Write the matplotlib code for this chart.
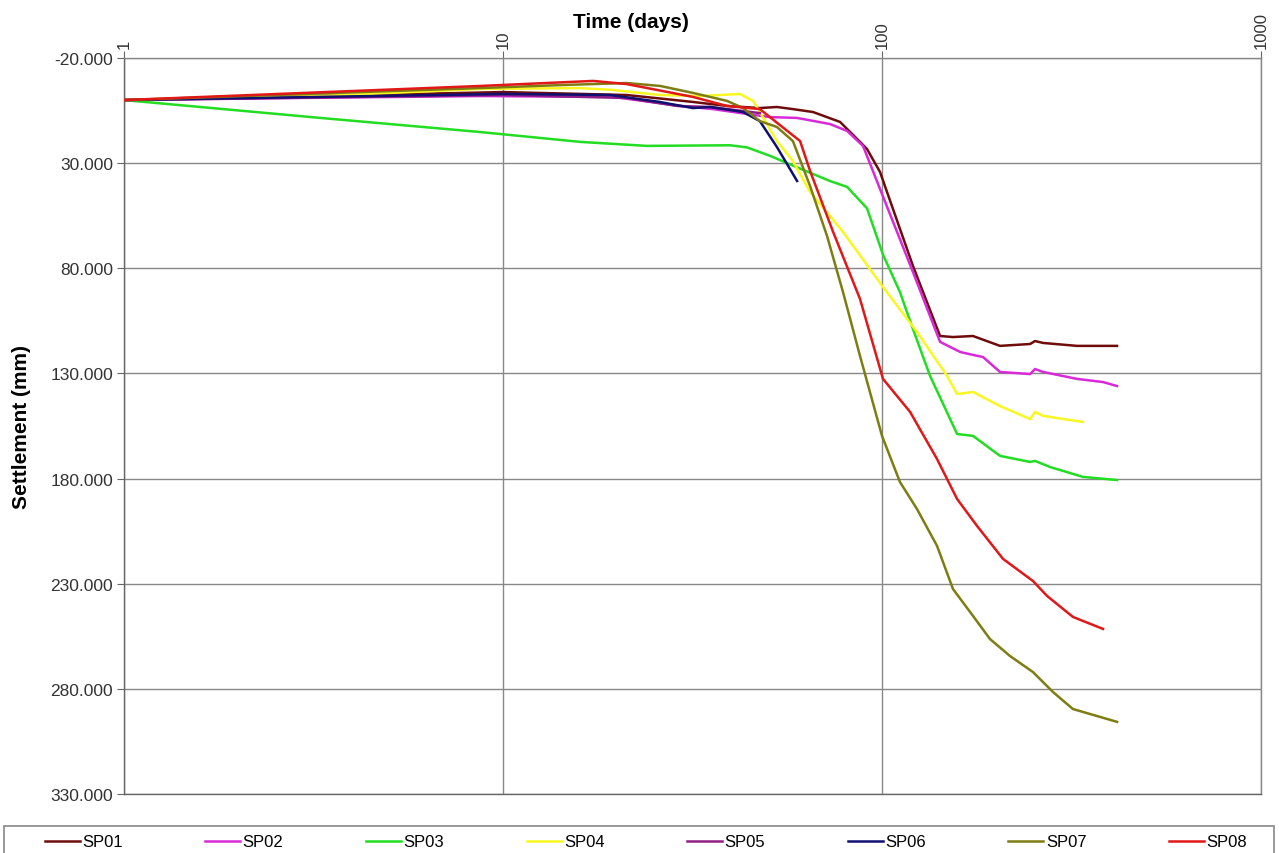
import matplotlib
matplotlib.use('Agg')
import matplotlib.pyplot as plt
import numpy as np
from matplotlib.patches import Rectangle
from matplotlib.ticker import FuncFormatter, NullLocator

plt.rcParams['font.family'] = ['Liberation Sans', 'DejaVu Sans']

# settlement records: days since start / settlement (mm)
sp01_days = [1, 10, 21.2, 31.7, 39, 47.6, 52.8, 58.2, 65.8, 77.5, 87.5, 91.3, 98.8, 120.7,
             142.3, 153.9, 173.8, 204.8, 245.9, 253.4, 266.1, 327, 417]
sp01_set = [0, -3.8, -2.4, 0.9, 2.8, 3.8, 3.3, 4.3, 5.7, 10.4, 19.9, 23.3, 34.2, 78.9,
            112.2, 112.7, 112.2, 116.9, 116.0, 114.6, 115.5, 116.9, 116.9]

sp02_days = [1, 2.9, 8.7, 19.5, 29.3, 35.8, 44, 50.6, 59.7, 72.9, 80.9, 89.1, 98.8, 120.7,
             142.3, 160.8, 173.8, 184.7, 204.8, 245.9, 253.4, 266.1, 327, 383, 417]
sp02_set = [0, -1, -1.9, -1.5, 2.8, 4.3, 6.6, 8.1, 8.5, 11.4, 14.7, 21.8, 42.3, 81.8,
            115.0, 119.8, 121.2, 122.2, 129.3, 130.3, 127.9, 129.3, 132.6, 134.1, 136.0]

sp03_days = [1, 3.3, 8.7, 16, 24, 39.7, 44, 50.6, 59.7, 72.9, 80.9, 91.3, 100.6, 111.5,
             120.7, 133.9, 157.8, 173.8, 204.8, 245.9, 253.4, 277.5, 339, 417]
sp03_set = [0, 8.5, 15.2, 19.9, 21.8, 21.5, 22.5, 26.5, 32.0, 38.5, 41.3, 51.5, 73.5, 91.3,
            108.9, 131.2, 158.8, 159.7, 169.2, 172.1, 171.6, 174.5, 179.2, 180.7]

sp04_days = [1, 3.3, 8.7, 16, 19.5, 26, 33.1, 42.2, 45.7, 47.6, 52.8, 58.2, 64.6, 78.9,
             100.6, 123.7, 148.5, 157.8, 173.8, 204.8, 245.9, 253.4, 266.1, 339]
sp04_set = [0, -1.9, -5.3, -5.7, -4.8, -2.4, -1.9, -2.9, 0.4, 5.7, 19.5, 29.0, 43.7, 62.7,
            88.9, 110.3, 131.2, 139.8, 138.8, 145.5, 151.7, 148.3, 150.2, 153.1]

sp05_days = [1, 10, 21.2, 28.8, 35.2, 43, 47.6]
sp05_set = [0, -2.4, -1.0, 2.8, 3.3, 5.2, 6.2]

sp06_days = [1, 10, 19.2, 25.9, 31.7, 35.2, 43, 47.6, 52.8, 59.7]
sp06_set = [0, -2.9, -2.4, 0.9, 3.8, 3.3, 5.7, 10.0, 22.3, 38.5]

sp07_days = [1, 8.7, 14.1, 21.2, 26, 31.7, 39, 43, 47.6, 52.8, 58.2, 64.6, 71.6, 78.9,
             87.5, 100, 111.5, 123.7, 139.7, 153.9, 173.8, 192.7, 217.7, 250.2, 282.6,
             319, 369, 417]
sp07_set = [0, -5.7, -7.1, -8.1, -6.7, -3.4, 0.4, 3.8, 10.0, 12.8, 19.5, 40.9, 64.6, 91.3,
            121.7, 159.7, 181.6, 194.5, 212.0, 232.5, 245.3, 256.3, 264.4, 272.0, 281.5,
            289.6, 292.9, 295.7]

sp08_days = [1, 8.7, 17.3, 21.2, 31.7, 39, 47.6, 60.8, 64.6, 74.3, 87.5, 100.6, 118.6,
             139.7, 157.8, 178.1, 208.6, 250.2, 272.5, 319, 339, 383]
sp08_set = [0, -6.7, -9.1, -7.6, -1.5, 2.8, 4.3, 19.5, 33.7, 62.7, 94.6, 132.6, 148.3,
            170.7, 189.7, 202.5, 218.2, 228.7, 235.8, 245.8, 247.7, 251.5]

names = ['SP01', 'SP02', 'SP03', 'SP04', 'SP05', 'SP06', 'SP07', 'SP08']
days = [sp01_days, sp02_days, sp03_days, sp04_days, sp05_days, sp06_days, sp07_days, sp08_days]
sets = [sp01_set, sp02_set, sp03_set, sp04_set, sp05_set, sp06_set, sp07_set, sp08_set]
colors = ['#6E0C0C', '#D82AD8', '#22DD22', '#F8F820', '#8E1E86', '#101070', '#7D7D12', '#E01818']

fig = plt.figure(figsize=(12.79, 8.54), dpi=100)
W, H = 1279, 854
ax = fig.add_axes([124 / W, 1 - 795 / H, (1261 - 124) / W, (795 - 59) / H])

for d, s, c, n in zip(days, sets, colors, names):
    ax.plot(d, s, color=c, lw=1.8, label=n, solid_joinstyle='round', zorder=3)

ax.set_xscale('log')
ax.set_xlim(1, 1000)
ax.set_xticks([1, 10, 100, 1000])
ax.set_xticklabels(['1', '10', '100', '1000'])
ax.xaxis.set_minor_locator(NullLocator())
ax.set_ylim(330, -20)
ax.set_yticks(np.arange(-20, 331, 50))
ax.yaxis.set_major_formatter(FuncFormatter(lambda v, p: '%.3f' % v))

ax.grid(True, color='#888888', lw=1.0, zorder=1)
for sp in ax.spines.values():
    sp.set_color('#888888')
    sp.set_linewidth(1.0)
ax.spines['left'].set_color('#666666')
ax.spines['bottom'].set_color('#666666')

ax.tick_params(axis='x', which='both', top=True, bottom=False, labeltop=True,
               labelbottom=False, labelrotation=90, direction='out', length=5,
               color='#666666', labelsize=12, labelcolor='#333333', pad=2)
ax.tick_params(axis='y', direction='out', length=5, color='#666666',
               labelsize=12.5, labelcolor='#333333', pad=3)

fig.text(631 / W, 1 - 22 / H, 'Time (days)', ha='center', va='center',
         fontsize=15, fontweight='bold')
ax.set_ylabel('Settlement (mm)', fontsize=15, fontweight='bold', labelpad=14)

# legend strip at the bottom
fig.patches.append(Rectangle((4 / W, -0.05), (1274 - 4) / W, 0.05 + (854 - 827) / H,
                             transform=fig.transFigure, facecolor='white',
                             edgecolor='#888888', lw=1.2))
fig.legend(loc='center', bbox_to_anchor=(0.505, 1 - 843 / H), ncol=8, frameon=False,
           fontsize=12, handlelength=2.1, handletextpad=0.15, columnspacing=4.95)

fig.savefig('out.png', dpi=100, facecolor='white')
